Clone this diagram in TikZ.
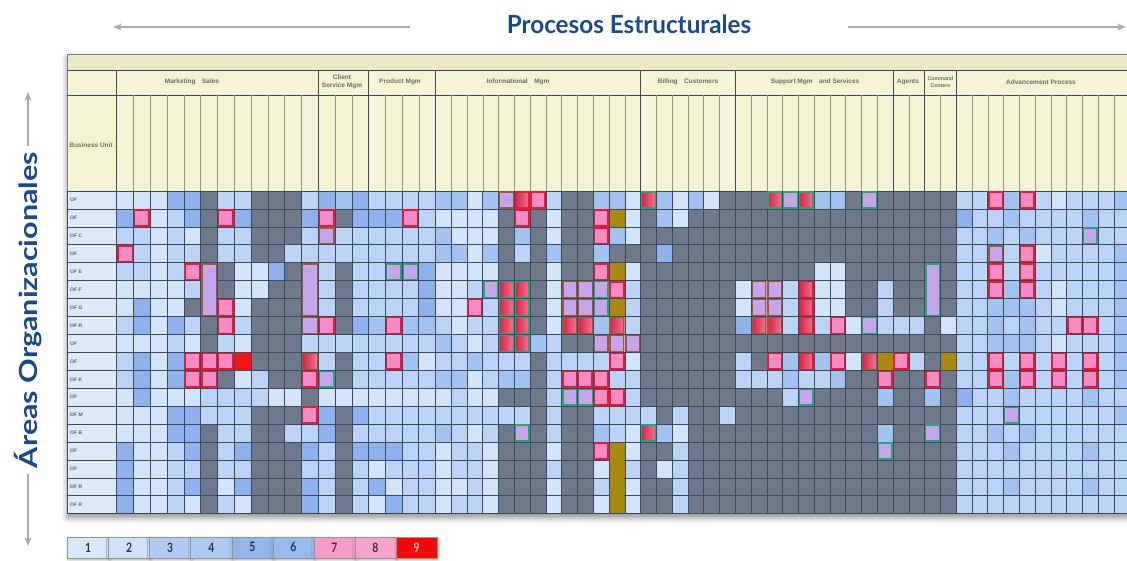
\documentclass[tikz,border=0pt]{standalone}
\usepackage{fontspec}
\usepackage{graphicx}
\setmainfont{Lato}
\newfontfamily\tinysans{Liberation Sans}
\usetikzlibrary{arrows.meta,shadows.blur}
\definecolor{ca}{HTML}{D3E5FA}
\definecolor{cb}{HTML}{BBD4F5}
\definecolor{cc}{HTML}{A2C2F0}
\definecolor{cd}{HTML}{8DB2EB}
\definecolor{cg}{HTML}{6E7A8B}
\definecolor{cp}{HTML}{F78BC6}
\definecolor{cl}{HTML}{C6A6EB}
\definecolor{cr}{HTML}{F51414}
\definecolor{co}{HTML}{A88A0E}
\definecolor{gsa}{HTML}{D8203E}
\definecolor{gsb}{HTML}{F27A9C}
\definecolor{bred}{HTML}{E31B3B}
\definecolor{bgreen}{HTML}{2FA27C}
\definecolor{bbrown}{HTML}{9A5A42}
\definecolor{gridc}{HTML}{3C4B5B}
\definecolor{hdr}{HTML}{F4F3D4}
\definecolor{hdrtop}{HTML}{ECEBC6}
\definecolor{hline}{HTML}{8E9A88}
\definecolor{labc}{HTML}{DCEAFA}
\definecolor{titleblue}{HTML}{1B4A86}
\definecolor{arrowgray}{HTML}{ABABAB}
\definecolor{htext}{HTML}{6E6E5E}
\definecolor{rtext}{HTML}{56606C}
\definecolor{lgA}{HTML}{D8E8FB}
\definecolor{lgB}{HTML}{D0E2F9}
\definecolor{lgC}{HTML}{B0CCF2}
\definecolor{lgD}{HTML}{AECBF1}
\definecolor{lgE}{HTML}{92B6EC}
\definecolor{lgF}{HTML}{98BBED}
\definecolor{lgG}{HTML}{F79BC9}
\definecolor{lgH}{HTML}{F6A3CF}
\definecolor{lgI}{HTML}{F50808}
\def\heatrows{%
{a,a,a,d,d,g,b,b,g,g,g,b,d,c,d,b,b,b,b,c,c,a,c,k,s,p,b,g,g,c,c,a,t,c,a,c,a,g,g,g,t,q,t,c,c,g,q,g,g,g,g,g,b,b,p,c,p,b,a,b,b,b,c},%
{d,p,a,b,d,g,p,d,g,g,g,d,p,g,d,d,d,p,b,a,a,a,a,g,p,g,a,g,g,p,o,a,g,c,a,g,g,g,g,g,g,g,g,g,g,g,g,g,g,g,g,g,d,b,b,c,b,b,b,b,c,b,b},%
{b,b,a,b,a,g,b,b,g,g,g,b,k,b,b,b,b,b,b,c,a,a,a,g,c,g,a,g,g,p,c,a,g,g,g,g,g,g,g,g,g,g,g,g,g,g,g,g,g,g,g,g,b,b,c,b,c,b,b,b,q,b,b},%
{p,b,a,b,b,g,b,b,g,g,b,b,b,b,b,b,b,b,b,c,c,a,c,g,b,g,c,g,g,c,g,g,g,d,g,g,g,g,g,g,g,g,g,g,g,g,g,g,g,g,g,g,b,b,k,b,p,a,b,b,b,b,c},%
{b,b,a,b,p,l,g,a,a,d,g,l,b,g,b,b,q,q,d,a,a,a,a,g,g,g,a,g,g,p,o,a,g,g,g,g,g,g,g,g,g,g,g,a,a,g,g,g,g,g,l,g,b,b,p,b,p,b,b,b,b,b,c},%
{a,a,a,a,b,l,g,a,a,g,g,l,b,g,b,b,b,b,d,a,a,b,q,t,t,g,a,k,k,q,p,b,g,g,g,g,g,g,a,k,k,b,s,a,a,g,g,b,g,g,l,g,b,b,p,c,p,b,a,b,b,b,c},%
{a,d,a,a,g,l,p,a,g,g,g,l,b,g,b,b,b,b,d,a,a,p,b,t,t,g,a,k,k,q,o,b,g,g,g,g,g,g,a,k,k,b,s,a,a,g,g,b,g,g,l,g,b,b,c,c,c,b,a,b,b,b,c},%
{b,d,a,d,b,g,p,b,g,g,g,k,p,g,d,c,p,c,c,b,a,b,b,t,t,g,a,u,u,c,u,b,g,g,g,g,g,g,d,u,u,b,s,b,p,a,q,b,b,b,g,a,b,b,c,b,c,b,b,p,p,b,c},%
{a,a,a,b,a,g,b,a,g,g,g,b,b,b,b,b,b,b,b,c,b,a,b,t,t,c,b,g,g,k,k,k,g,g,g,g,g,g,g,g,g,g,g,g,g,g,g,g,g,g,g,g,b,b,c,c,c,b,a,b,b,b,c},%
{b,d,a,d,p,p,p,r,g,g,g,u,b,g,b,b,p,c,a,b,b,c,b,b,b,g,b,b,b,b,p,a,g,g,g,g,g,g,b,g,p,c,s,c,p,a,u,o,p,b,g,o,b,b,p,b,p,b,p,b,p,b,c},%
{b,d,a,d,p,p,g,a,b,g,g,p,q,g,b,b,b,b,b,c,c,a,b,c,c,g,b,p,p,p,b,b,g,g,g,g,g,g,b,b,b,c,b,b,c,g,g,p,g,g,p,g,b,b,p,c,p,b,p,b,p,b,c},%
{a,d,a,a,a,b,b,b,b,a,a,g,a,a,a,a,a,a,a,a,b,a,a,g,g,g,b,q,q,p,p,b,g,g,g,g,g,g,g,g,g,b,q,g,g,g,g,c,g,g,c,g,d,b,b,c,b,b,b,b,c,b,b},%
{a,a,a,d,d,b,b,b,g,g,g,p,d,g,d,b,b,b,b,b,b,b,b,b,b,g,b,g,g,b,b,b,b,g,b,g,g,b,g,g,g,g,g,g,g,g,g,g,g,g,g,g,b,b,b,q,b,b,b,b,b,b,c},%
{a,a,a,d,d,g,b,b,g,g,b,b,d,g,b,b,b,b,b,c,b,a,b,g,q,g,b,g,g,c,b,a,t,c,a,g,g,g,g,g,g,g,g,g,g,g,g,c,g,g,q,g,b,b,c,b,c,b,b,b,b,b,b},%
{d,a,a,b,d,g,b,d,g,g,g,d,b,g,d,d,d,b,b,a,b,b,a,g,g,g,a,g,g,p,o,a,g,g,b,g,g,g,g,g,g,g,g,g,g,g,g,q,g,g,g,g,b,b,b,c,b,b,b,b,c,b,b},%
{d,a,a,b,b,g,b,b,g,g,g,b,b,g,b,a,b,b,b,a,b,b,a,g,g,g,b,g,g,a,o,b,g,a,b,g,g,g,g,g,g,g,g,g,g,g,g,g,g,g,g,g,b,b,b,b,b,b,b,b,b,b,b},%
{d,a,a,b,d,g,a,d,g,g,g,d,b,g,b,d,a,b,b,a,a,b,a,g,g,g,a,g,g,b,o,a,g,g,b,g,g,g,g,g,g,g,g,g,g,g,g,g,g,g,g,g,b,b,b,c,b,b,b,b,c,b,b},%
{d,a,a,b,a,g,b,a,g,g,g,d,b,g,b,a,d,b,b,a,b,b,a,g,g,g,a,g,g,a,o,a,g,g,b,g,g,g,g,g,g,g,g,g,g,g,g,g,g,g,g,g,b,b,b,b,b,b,b,b,b,b,b}}
\begin{document}
\begin{tikzpicture}[x=1pt,y=-1pt,
  cell a/.style={fill=ca}, cell b/.style={fill=cb}, cell c/.style={fill=cc},
  cell d/.style={fill=cd}, cell g/.style={fill=cg}, cell p/.style={fill=cp},
  cell q/.style={fill=cl}, cell k/.style={fill=cl}, cell l/.style={fill=cl},
  cell r/.style={fill=cr}, cell o/.style={fill=co},
  cell s/.style={left color=gsa,right color=gsb},
  cell t/.style={left color=gsa,right color=gsb},
  cell u/.style={left color=gsa,right color=gsb},
  bord a/.style={}, bord b/.style={}, bord c/.style={}, bord d/.style={},
  bord g/.style={}, bord l/.style={}, bord r/.style={}, bord o/.style={},
  bord p/.style={draw=bred,line width=1.6},
  bord q/.style={draw=bgreen,line width=1.4},
  bord k/.style={draw=bbrown,line width=1.4},
  bord s/.style={draw=bred,line width=1.4},
  bord t/.style={draw=bgreen,line width=1.4},
  bord u/.style={draw=bbrown,line width=1.4},
  grayarrow/.style={draw=arrowgray,line width=1.8,-{Stealth[length=9pt,width=7pt]}},
  grouptext/.style={font=\tinysans\bfseries\fontsize{6.5}{7.5}\selectfont,text=htext,align=center,inner sep=0},
  rowlab/.style={font=\tinysans\bfseries\fontsize{5}{6}\selectfont,text=rtext,anchor=west,inner sep=0},
  legcell/.style={draw=hline,line width=0.6,minimum width=41.05pt,minimum height=21pt,inner sep=0,anchor=north west,
    font=\bfseries\fontsize{13}{14}\selectfont}
]
\useasboundingbox (0,0) rectangle (1127,560);
\clip (0,0) rectangle (1127,560);

% title and arrows
\node[text=titleblue,font=\bfseries\fontsize{25}{28}\selectfont] (title) at (629,24) {\scalebox{0.97}[1]{Procesos Estructurales}};
\coordinate (la1) at (410,27); \coordinate (la2) at (113,27);
\coordinate (ra1) at (848,27); \coordinate (ra2) at (1126,27);
\draw[grayarrow] (la1) -- (la2);
\draw[grayarrow] (ra1) -- (ra2);

\node[rotate=90,text=titleblue,font=\bfseries\fontsize{25}{28}\selectfont] (vtitle) at (28,310) {\scalebox{1.22}[1]{Áreas Organizacionales}};
\coordinate (ua1) at (28,146); \coordinate (ua2) at (28,92);
\coordinate (da1) at (28,474); \coordinate (da2) at (28,546);
\draw[grayarrow] (ua1) -- (ua2);
\draw[grayarrow] (da1) -- (da2);

% table shadow and header
\path[fill=white,blur shadow={shadow xshift=0pt,shadow yshift=-4pt,shadow blur radius=6pt,shadow opacity=45}] (67.3,54) rectangle (1135,513.7);
\path[fill=hdr] (67.3,54) rectangle (1135,191);
\path[fill=hdrtop] (67.3,54) rectangle (1135,70);
\draw[gridc!70,line width=0.6] (67.3,54) rectangle (1135,191);
\draw[gridc,line width=1] (67.3,70) -- (1135,70);
\draw[gridc,line width=1] (67.3,95) -- (1135,95);
% column separators in header
\foreach \i in {2,...,63} {
  \pgfmathsetmacro\xa{\i<16 ? 116.7+(\i-1)*16.8 : (\i<20 ? 368.7+(\i-16)*16.7 : 435.5+(\i-20)*15.78)}
  \draw[hline,line width=0.6] (\xa,95) -- (\xa,191);
}
\foreach \xg in {116.7,318.3,368.7,435.5,640.7,735.3,893.1,924.7,956.2} {
  \draw[gridc,line width=1.1] (\xg,70) -- (\xg,191);
}
\node[grouptext] (g1) at (192,82) {Marketing\quad Sales};
\node[grouptext] (g2) at (342,82) {Client\\Service Mgm};
\node[grouptext] (g3) at (400,82) {Product Mgm};
\node[grouptext] (g4) at (518,82) {Informational\quad Mgm};
\node[grouptext] (g5) at (688,82) {Billing\quad Customers};
\node[grouptext] (g6) at (815,82) {Support Mgm\quad and Services};
\node[grouptext] (g7) at (908,82) {Agents};
\node[grouptext,font=\tinysans\bfseries\fontsize{5.3}{6.5}\selectfont] (g8) at (940.5,82) {Command\\Centers};
\node[grouptext] (g9) at (1041,82) {Advancement Process};
\node[grouptext] (bu) at (91,145) {Business Unit};

% row labels column
\foreach \lab [count=\j] in {OF,OF,OF C,OF,OF E,OF F,OF G,OF R,OF,OF,OF K,OF,OF M,OF B,OF,OF,OF R,OF R} {
  \pgfmathsetmacro\ya{191+(\j-1)*17.93}
  \path[fill=labc,draw=gridc,line width=0.7] (67.3,\ya) rectangle (116.7,\ya+17.93);
  \node[rowlab] (rl\j) at (70,\ya+9) {\lab};
}

% heat map cells
\foreach \rowdata [count=\j] in \heatrows {
  \pgfmathsetmacro\ya{191+(\j-1)*17.93}
  \foreach \c [count=\i] in \rowdata {
    \pgfmathsetmacro\xa{\i<16 ? 116.7+(\i-1)*16.8 : (\i<20 ? 368.7+(\i-16)*16.7 : 435.5+(\i-20)*15.78)}
    \pgfmathsetmacro\w{\i<16 ? 16.8 : (\i<20 ? 16.7 : 15.78)}
    \path[draw=gridc,line width=0.7,cell \c] (\xa,\ya) rectangle ++(\w,17.93);
    \path[bord \c] ({\xa+1.1},{\ya+1.1}) rectangle ++({\w-2.2},15.73);
  }
}
% merged cells
\path[fill=cl,draw=bbrown,line width=1.4] (201.8,263.8) rectangle (216.4,315.4);
\path[fill=cl,draw=bbrown,line width=1.4] (302.6,263.8) rectangle (317.2,315.4);
\path[fill=cl,draw=bgreen,line width=1.4] (925.8,263.8) rectangle (939.4,315.4);
\path[fill=co] (609.5,442.5) rectangle (624.4,513.3);

% legend
\foreach \lc/\tc [count=\k] in {lgA/black!80,lgB/black!80,lgC/black!80,lgD/black!80,lgE/black!80,lgF/titleblue!70!black,lgG/black!80,lgH/black!80,lgI/red!25} {
  \node[legcell,fill=\lc,text=\tc,blur shadow={shadow xshift=1pt,shadow yshift=-2pt,shadow blur radius=3pt,shadow opacity=35}] (lg\k) at ({67.3+(\k-1)*41.05},536.5) {\scalebox{0.8}[1]{\k}};
}
\end{tikzpicture}
\end{document}
